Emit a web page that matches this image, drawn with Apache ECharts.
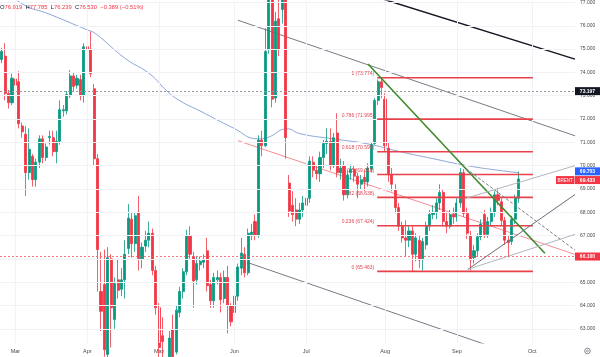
<!DOCTYPE html>
<html><head><meta charset="utf-8">
<script src="https://cdn.jsdelivr.net/npm/echarts@6/dist/echarts.min.js"></script>
<style>html,body{margin:0;padding:0;background:#fff}#c{width:600px;height:357px}</style>
</head><body><div id="c"></div>
<script>
// ---- categories (trading days) ----
const startDay = '2025-02-25';
const holidays = ['2025-04-18'];
const nCategories = 168;
const monthLabels = ['Mar','Apr','May','Jun','Jul','Aug','Sep','Oct'];
const priceTicks = [63,64,65,66,67,68,69,70,71,72,73,74,75,76,77];

// ---- candles [open, close, low, high] ----
const candles = [
 [74.55,74.90,74.40,75.05],[74.70,73.10,72.80,75.25],[73.10,72.70,72.45,73.25],[72.70,73.75,72.60,73.95],
 [73.72,73.45,72.90,74.05],[73.60,71.80,71.60,74.05],[71.70,71.45,71.20,71.85],[71.35,69.70,68.70,71.70],
 [69.70,70.70,69.40,71.60],[70.40,69.40,69.10,70.50],[69.40,70.15,69.10,70.30],[70.15,71.15,69.90,71.30],
 [71.15,70.35,70.10,71.30],[70.35,70.80,70.20,70.95],[71.20,71.25,70.90,71.50],[71.20,70.60,70.40,71.50],
 [70.60,71.05,70.10,71.50],[71.05,72.40,70.90,72.80],[72.35,72.40,72.10,72.60],[72.35,73.05,72.20,73.20],
 [73.00,73.85,72.90,74.10],[73.85,73.40,73.20,74.00],[73.45,73.75,73.30,73.90],[73.70,73.00,72.80,73.90],
 [73.00,75.10,72.70,75.25],[75.10,74.98,74.70,75.75],[75.00,73.95,73.80,75.75],[73.30,70.30,70.00,73.50],
 [70.30,66.40,64.60,70.50],[64.60,63.75,62.90,66.30],[64.90,62.10,61.80,66.40],[61.90,66.05,60.50,66.50],
 [66.00,63.90,62.20,66.20],[63.40,64.95,63.00,65.20],[65.10,64.65,64.30,66.00],[64.70,65.10,64.40,65.60],
 [65.10,66.20,64.30,66.80],[66.45,67.75,66.20,68.35],[67.70,66.65,66.05,68.00],[66.65,67.85,66.30,68.00],
 [68.00,66.00,65.50,68.70],[66.00,66.50,65.60,66.70],[66.55,66.80,66.30,67.20],[66.80,67.10,66.50,67.60],
 [67.10,65.50,65.30,67.30],[65.50,63.90,63.60,65.70],[63.90,62.20,61.50,64.10],[62.70,62.45,61.00,63.50],
 [61.50,60.50,60.00,61.90],[61.00,62.60,60.80,62.90],[62.95,61.80,61.50,63.60],[62.00,63.80,61.90,64.00],
 [63.70,64.60,63.50,64.80],[64.60,65.45,64.30,65.60],[65.45,67.00,65.30,67.25],[67.00,66.20,66.00,67.40],
 [66.10,65.05,63.90,66.30],[65.10,65.80,64.90,66.10],[65.75,65.90,65.50,66.10],[65.85,65.95,65.60,66.20],
 [66.35,64.85,64.60,66.90],[64.90,64.20,63.90,65.10],[64.20,65.20,63.90,65.40],[65.10,65.20,64.90,65.50],
 [65.20,64.25,63.70,65.40],[64.30,65.20,64.10,65.50],[65.20,64.00,62.80,65.70],[64.00,63.30,63.10,64.10],
 [63.70,64.40,63.30,64.60],[64.40,65.65,64.20,65.80],[65.60,66.25,65.30,66.90],[66.20,65.40,65.20,66.50],
 [65.40,67.10,65.30,67.30],[67.05,67.15,66.80,67.50],[67.60,67.00,66.80,67.90],[67.00,71.10,66.90,71.30],
 [71.10,70.85,70.40,71.50],[70.85,74.90,70.80,75.90],[75.00,77.30,74.80,77.90],[77.30,72.85,72.50,77.80],
 [72.90,76.20,72.70,76.60],[76.30,75.00,74.70,77.60],[76.70,77.20,76.10,77.80],[77.30,71.20,70.30,77.60],
 [69.25,68.05,67.80,69.60],[68.30,67.90,67.60,68.90],[68.10,67.70,67.40,68.60],[67.70,68.10,67.50,68.40],
 [68.10,68.40,67.80,68.70],[68.30,68.60,67.90,69.00],[68.60,70.20,68.40,70.40],[70.15,69.80,69.50,70.40],
 [69.80,69.65,69.40,70.00],[69.65,70.35,69.30,70.60],[70.35,70.95,69.90,71.10],[70.95,71.05,70.50,71.60],
 [71.05,70.00,69.80,71.60],[70.00,71.20,69.90,71.40],[71.40,69.70,69.50,72.25],[69.70,69.90,69.40,70.30],
 [70.00,68.75,68.50,70.20],[68.75,69.60,68.60,69.80],[69.70,69.85,69.40,70.05],[69.85,69.55,69.30,70.00],
 [69.55,69.20,68.60,69.70],[69.20,69.40,69.00,69.60],[69.50,69.30,68.90,69.80],[69.30,69.90,69.10,70.10],
 [69.85,70.90,69.70,71.00],[70.95,72.80,70.90,72.90],[72.80,73.60,72.60,73.70],[73.60,73.35,72.90,73.774],
 [72.85,70.85,70.60,73.10],[70.75,69.60,69.30,71.00],[69.60,69.20,68.90,69.90],[68.95,68.20,67.95,69.20],
 [68.20,67.40,67.20,68.40],[67.40,66.90,66.70,67.60],[66.90,66.80,66.10,67.65],[66.80,67.20,66.50,67.40],
 [67.20,66.20,65.463,67.40],[66.20,66.90,65.90,67.10],[66.80,65.95,65.60,67.00],[66.00,66.75,65.50,66.90],
 [66.60,67.40,66.40,67.60],[67.40,67.90,67.20,68.10],[67.90,68.00,67.70,68.30],[68.00,68.40,67.70,68.60],
 [68.40,68.85,68.10,69.20],[68.85,67.60,67.40,69.00],[67.60,67.40,67.10,68.00],[67.40,67.90,67.30,68.10],
 [67.90,67.80,67.50,68.20],[67.80,68.40,67.60,68.60],[68.40,69.70,68.20,69.90],[69.70,67.95,67.80,69.85],
 [67.95,67.10,66.85,68.20],[67.00,65.95,65.50,67.20],[66.05,66.35,65.80,66.60],[66.35,66.95,66.10,67.10],
 [66.95,67.50,66.80,67.70],[67.90,67.05,66.90,68.10],[67.05,67.60,66.90,67.80],[67.60,68.00,67.40,68.20],
 [68.00,68.75,67.80,68.90],[68.75,68.50,68.30,69.05],[68.45,67.65,67.40,68.60],[67.65,66.80,66.60,67.80],
 [66.80,66.70,66.06,67.00],[66.75,67.70,66.60,67.85],[67.70,68.60,67.50,68.75],[68.60,69.43,68.40,69.75]
];

// ---- moving average (bar index, price) ----
const maPoints = [[-0.5,77.75],[5.9,76.95],[14.1,76.49],[25.2,75.81],[27.3,75.68],[36.0,74.61],[43.3,73.93],
 [48.3,73.20],[52.1,72.78],[57.9,72.35],[67.6,71.62],[74.9,71.15],[77.5,71.20],[83.4,71.58],[87.2,71.37],
 [96.8,71.15],[106.7,70.94],[116.4,70.60],[126.0,70.30],[136.0,70.00],[145.6,69.79],[151,69.70]];

// ---- drawn trend lines (bar index, price) ----
const blackLine   = [[109.1,77.25],[167.5,74.57]];
const channelTop  = [[69.0,76.24],[167.5,71.28]];
const channelMid  = [[69.0,71.07],[167.5,66.19]];
const channelLow  = [[71.7,65.85],[167.5,61.00]];
const greenLine   = [[107.0,74.36],[158.7,66.24]];
const dashedLine  = [[135.7,69.87],[167.5,66.37]];
const riseLight   = [[135.4,68.59],[167.5,70.00]];
const riseDark    = [[136.2,65.55],[167.5,68.76]];
const riseLight2  = [[136.2,65.55],[167.5,67.05]];

// ---- fibonacci ----
const fibRatios = ['1','0.786','0.618','0.5','0.382','0.236','0'];
const fibLevels = [73.774,71.995,70.599,69.618,68.638,67.424,65.463];
const fibRange = [109.7,155.2];

// ---- reference levels & tags ----
const refLevels = [73.197, 66.100];
const tagValues = [73.197, 69.703, 69.433, 66.100];
const tagNames = ['', '', 'BRENT', ''];
const legendParts = ['O','76.919','H','77.785','L','76.239','C','76.530','−0.389 (−0.51%)'];

// categories
const dates = [];
{ const d = new Date(startDay + 'T00:00:00Z');
  while (dates.length < nCategories) {
    const wd = d.getUTCDay(); const s = d.toISOString().slice(0,10);
    if (wd !== 0 && wd !== 6 && !holidays.includes(s)) dates.push(s);
    d.setUTCDate(d.getUTCDate() + 1);
  } }
const isMonthStart = i => i > 0 && dates[i].slice(5,7) !== dates[i-1].slice(5,7);
const monthStarts = dates.map((d,i)=>i).filter(isMonthStart);

const FONT = 'Liberation Sans';
const ln = (data, color, width, type, z) => ({
  type:'line', xAxisIndex:1, yAxisIndex:0, data, symbol:'none', silent:true, animation:false,
  lineStyle:{color, width, type: type||'solid'}, z: z||3
});

const series = [
  { type:'line', xAxisIndex:1, yAxisIndex:0, data:[], silent:true, z:0,
    markLine:{ silent:true, symbol:['none','none'], label:{show:false}, animation:false,
      lineStyle:{color:'#f0f2f6', width:1, type:'solid'},
      data: priceTicks.map(v=>({yAxis:v})).concat(monthStarts.map(i=>({xAxis:i}))) } },
  { type:'line', xAxisIndex:1, yAxisIndex:0, data:[], silent:true, z:1,
    markLine:{ silent:true, symbol:['none','none'], label:{show:false}, animation:false,
      data:[ {yAxis:refLevels[0], lineStyle:{color:'#9598a1', width:1, type:[2,2]}},
             {yAxis:refLevels[1], lineStyle:{color:'#f7525f', width:1, type:[2,2], opacity:0.8}} ] } },
  ln(channelTop, '#787b86', 1),
  ln(channelMid, '#f48f97', 1),
  ln(channelLow, '#787b86', 1),
  ln(blackLine, '#131722', 1.5),
  { type:'line', xAxisIndex:1, yAxisIndex:0, data:maPoints, smooth:true, symbol:'none', silent:true,
    lineStyle:{color:'#8ea6d6', width:1}, z:2, animation:false },
  { type:'candlestick', xAxisIndex:0, yAxisIndex:0, data:candles, barWidth:2.6, z:4, animation:false,
    itemStyle:{color:'#089981', color0:'#f23645', borderColor:'#089981', borderColor0:'#f23645', borderWidth:0.8} },
];
fibLevels.forEach(v => series.push(ln([[fibRange[0],v],[fibRange[1],v]], '#e8414b', 1.6, 'solid', 5)));
series.push(ln(greenLine, '#3f8a2c', 1.6, 'solid', 6));
series.push(ln(dashedLine, '#787b86', 1, [3,2], 6));
series.push(ln(riseLight, '#b2b5be', 1, 'solid', 6));
series.push(ln(riseDark, '#6a6d78', 1, 'solid', 6));
series.push(ln(riseLight2, '#b2b5be', 1, 'solid', 6));

const chart = echarts.init(document.getElementById('c'), null, {renderer:'canvas'});
chart.setOption({
  animation:false,
  backgroundColor:'#ffffff',
  grid:{left:0, right:25, top:0, bottom:14, containLabel:false},
  xAxis:[
    { type:'category', data:dates, boundaryGap:true,
      axisLine:{show:false}, axisTick:{show:false}, splitLine:{show:false},
      axisLabel:{ interval:(i)=>isMonthStart(i), fontSize:5.5, color:'#4a4a4a', margin:5, fontFamily:FONT,
        formatter:(v)=> monthLabels[parseInt(v.slice(5,7),10)-3] } },
    { type:'value', min:-0.5, max:nCategories-0.5, show:false }
  ],
  yAxis:{ type:'value', position:'right', min:62.39, max:77.05, scale:true,
    axisLine:{show:false}, axisTick:{show:false}, splitLine:{show:false},
    axisLabel:{ customValues:priceTicks, formatter:(v)=>v.toFixed(3), fontSize:5, color:'#4a4a4a', margin:5, fontFamily:FONT } },
  series
});

// overlays positioned through the chart's own scales
const py = v => chart.convertToPixel({yAxisIndex:0}, v);
const px = i => chart.convertToPixel({xAxisIndex:1}, i);
const g = [];
fibLevels.forEach((v,k)=>{
  g.push({type:'text', z:50, style:{ text:`${fibRatios[k]} (${v.toFixed(3)})`, x:px(fibRange[0])-3, y:py(v)-1.5,
    align:'right', verticalAlign:'bottom', fill:'#e0464f', font:`5px "${FONT}"` }});
});
const tagColors = ['#131722','#2962ff','#f23645','#f23645'];
tagValues.forEach((v,k)=>{
  let cy = py(v);
  if (k===1) cy -= 1.2; if (k===2) cy += 1.2;
  g.push({type:'rect', z:60, shape:{x:575, y:cy-4, width:25, height:8}, style:{fill:tagColors[k]}});
  g.push({type:'text', z:61, style:{text:v.toFixed(3), x:587.5, y:cy+0.3, align:'center', verticalAlign:'middle', fill:'#fff', font:`bold 5px "${FONT}"`}});
  if (tagNames[k]) {
    g.push({type:'rect', z:60, shape:{x:556, y:cy-4, width:18.5, height:8}, style:{fill:tagColors[k]}});
    g.push({type:'text', z:61, style:{text:tagNames[k], x:565.2, y:cy+0.3, align:'center', verticalAlign:'middle', fill:'#fff', font:`4.5px "${FONT}"`}});
  }
});
const rich = {k:{fill:'#131722', fontSize:5.8, fontFamily:FONT}, v:{fill:'#f23645', fontSize:5.8, fontFamily:FONT}};
let txt = '';
legendParts.forEach((p,k)=>{ txt += (k%2===0 && k<8) ? `{k|${p}}` : `{v|${p}} `; });
g.push({type:'text', z:70, style:{text:txt, x:0, y:7, verticalAlign:'middle', rich}});
g.push({type:'circle', z:70, shape:{cx:587.5, cy:351, r:2.8}, style:{fill:'none', stroke:'#6a6d78', lineWidth:0.8}});
g.push({type:'circle', z:70, shape:{cx:587.5, cy:351, r:1}, style:{fill:'none', stroke:'#6a6d78', lineWidth:0.6}});
chart.setOption({graphic:g});
</script></body></html>
